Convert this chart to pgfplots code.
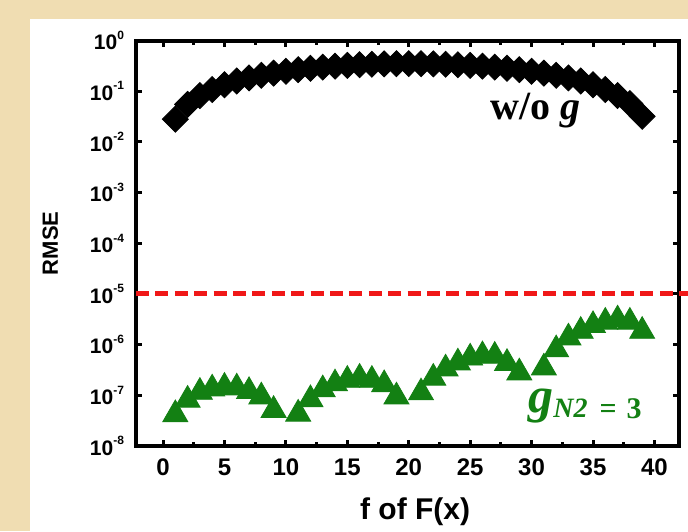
\documentclass[border=0pt]{standalone}
\usepackage{pgfplots}
\pgfplotsset{compat=1.18}
\usepackage{fontspec}
\setmainfont{Liberation Sans}
\newfontfamily\serif{Liberation Serif}
\definecolor{bgBeige}{HTML}{F0DDB2}
\definecolor{clrGreen}{HTML}{138013}
\definecolor{clrRed}{HTML}{F01818}
\newcommand{\pw}[1]{10\raisebox{0.5em}{\fontsize{6}{6}\selectfont #1}}

\begin{document}
\begin{tikzpicture}
\useasboundingbox (0,0) rectangle (344pt,265.5pt);
\fill[bgBeige] (0,0) rectangle (344pt,265.5pt);
\fill[white] (15pt,0) rectangle (344pt,256pt);
\begin{axis}[
    at={(68pt,42.5pt)}, anchor=south west,
    scale only axis, width=271.5pt, height=202.75pt,
    ymode=log,
    xmin=-2.2, xmax=42, ymin=1e-8, ymax=1,
    axis line style={line width=2pt},
    tick align=inside,
    xtick={0,5,...,40}, minor x tick num=1,
    ytick={1e-8,1e-7,1e-6,1e-5,1e-4,1e-3,1e-2,1e-1,1},
    yticklabels={\pw{-8},\pw{-7},\pw{-6},\pw{-5},\pw{-4},\pw{-3},\pw{-2},\pw{-1},\pw{0}},
    yminorticks=false,
    major tick length=3pt, minor tick length=2pt,
    every tick/.style={black, line width=1.5pt},
    /pgf/number format/assume math mode=true,
    xticklabel style={font=\fontsize{12}{14}\selectfont\bfseries, yshift=-3pt},
    yticklabel style={font=\fontsize{10.5}{11}\selectfont\bfseries, xshift=-2.5pt},
    xlabel={f of F(x)},
    xlabel style={at={(axis description cs:0.514,-0.163)}, anchor=center,
        font=\fontsize{15}{17}\selectfont\bfseries},
    ylabel={RMSE},
    ylabel style={at={(axis description cs:-0.158,0.5)}, anchor=center,
        font=\fontsize{11}{13}\selectfont\bfseries},
    clip=false,
]
% threshold
\addplot[clrRed, line width=2.5pt, dash pattern=on 6.5pt off 3.2pt]
    coordinates {(-2.2,1e-5) (42.7,1e-5)};

% w/o g
\addplot[only marks, mark=square*, mark size=4.6pt,
    mark options={rotate=45, fill=black, draw=black}] coordinates {
    (1,0.028) (2,0.055) (3,0.082) (4,0.108) (5,0.134) (6,0.159) (7,0.183)
    (8,0.206) (9,0.227) (10,0.247) (11,0.266) (12,0.283) (13,0.298)
    (14,0.312) (15,0.323) (16,0.333) (17,0.340) (18,0.346) (19,0.349)
    (20,0.350) (21,0.349) (22,0.346) (23,0.340) (24,0.333) (25,0.323)
    (26,0.312) (27,0.298) (28,0.283) (29,0.266) (30,0.247) (31,0.227)
    (32,0.206) (33,0.183) (34,0.159) (35,0.134) (36,0.108) (37,0.082)
    (38,0.057) (39,0.032)
};

% g_N2 = 3
\addplot[only marks, mark=triangle*, mark size=7.2pt,
    mark options={fill=clrGreen, draw=clrGreen}] coordinates {
    (1,4.2e-8) (2,8.1e-8) (3,1.16e-7) (4,1.35e-7) (5,1.46e-7)
    (6,1.41e-7) (7,1.2e-7) (8,9.4e-8) (9,5.1e-8)
    (11,4.3e-8) (12,8.3e-8) (13,1.3e-7) (14,1.7e-7) (15,2.0e-7)
    (16,2.2e-7) (17,2.0e-7) (18,1.64e-7) (19,9.4e-8)
    (21,1.13e-7) (22,2.2e-7) (23,3.35e-7) (24,4.4e-7) (25,5.5e-7)
    (26,6.1e-7) (27,5.96e-7) (28,4.3e-7) (29,2.8e-7)
    (31,3.5e-7) (32,8.0e-7) (33,1.37e-6) (34,1.85e-6) (35,2.4e-6)
    (36,2.8e-6) (37,3.1e-6) (38,2.8e-6) (39,1.85e-6)
};
\end{axis}

\node[anchor=base west, inner sep=0pt] at (245pt,206pt)
    {\serif\bfseries\fontsize{20}{24}\selectfont w/o \textit{g}};
\node[anchor=base west, inner sep=0pt, text=clrGreen] at (264pt,59.5pt)
    {{\serif\bfseries\itshape\fontsize{25}{27}\selectfont g}%
     \raisebox{-2.5pt}{\serif\bfseries\itshape\fontsize{14}{15}\selectfont N2}%
     \hspace{6pt}\raisebox{-3pt}{\serif\bfseries\fontsize{15}{16}\selectfont =\hspace{5pt}3}};
\end{tikzpicture}
\end{document}
